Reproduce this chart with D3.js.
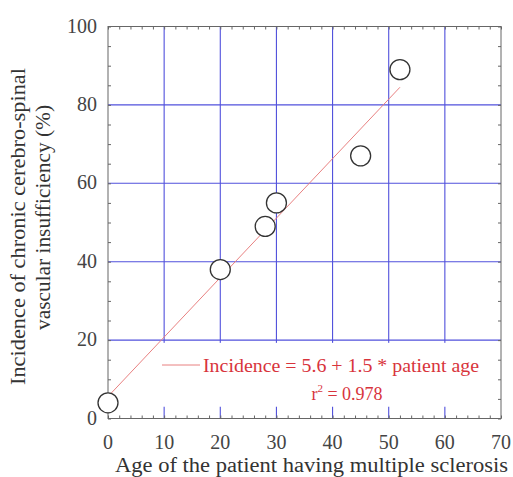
<!DOCTYPE html>
<html>
<head>
<meta charset="utf-8">
<script src="https://cdn.jsdelivr.net/npm/d3@7"></script>
<style>
  body { margin: 0; background: #fff; }
  svg text { font-family: "Liberation Serif", "Times New Roman", "DejaVu Serif", serif; }
</style>
</head>
<body>
<div id="chart"></div>
<script>
// du lieu doc tu hinh
const ages = [0, 20, 28, 30, 45, 52];
const incidence = [4, 38, 49, 55, 67, 89];
const fitAges = [0, 52];
const fitValues = [5.6, 84.5];
const xTicks = [0, 10, 20, 30, 40, 50, 60, 70];
const yTicks = [0, 20, 40, 60, 80, 100];
const legendLines = ["Incidence = 5.6 + 1.5 * patient age"];

const W = 513, H = 477;
const margin = { top: 26.5, right: 12, bottom: 58.5, left: 108 };
const width = W - margin.left - margin.right;
const height = H - margin.top - margin.bottom;

const svg = d3.select("#chart").append("svg")
    .attr("width", W)
    .attr("height", H);

const g = svg.append("g")
    .attr("transform", `translate(${margin.left},${margin.top})`);

const x = d3.scaleLinear().domain([0, 70]).range([0, width]);
const y = d3.scaleLinear().domain([0, 100]).range([height, 0]);

const gridColor = "#5050dc";
const frameColor = "#666";
const textColor = "#444";
const red = "#d8343c";

// luoi xanh
g.append("g").selectAll("line.vx")
    .data(xTicks.filter(d => d > 0 && d < 70))
    .join("line")
      .attr("x1", d => x(d)).attr("x2", d => x(d))
      .attr("y1", 0).attr("y2", height)
      .attr("stroke", gridColor).attr("stroke-width", 1.1);

g.append("g").selectAll("line.hy")
    .data(yTicks.filter(d => d > 0 && d < 100))
    .join("line")
      .attr("x1", 0).attr("x2", width)
      .attr("y1", d => y(d)).attr("y2", d => y(d))
      .attr("stroke", gridColor).attr("stroke-width", 1.1);

// hop nen trang cho chu thich
g.append("rect")
    .attr("x", x(8.9)).attr("y", y(19.3))
    .attr("width", x(68.3) - x(8.9))
    .attr("height", y(3) - y(19.3))
    .attr("fill", "#fff");

// duong hoi quy
g.append("path")
    .datum(fitAges.map((a, i) => [a, fitValues[i]]))
    .attr("fill", "none")
    .attr("stroke", "#e88080")
    .attr("stroke-width", 1)
    .attr("d", d3.line().x(d => x(d[0])).y(d => y(d[1])));

// truc va vach chia (4 phia, huong vao trong)
const tickStroke = sel => sel.call(s => s.select(".domain").remove())
    .selectAll("line").attr("stroke", frameColor);

g.append("g").attr("transform", `translate(0,${height})`)
    .call(d3.axisBottom(x).tickValues(d3.range(0, 71, 2)).tickSize(-3).tickFormat(""))
    .call(tickStroke);
g.append("g")
    .call(d3.axisTop(x).tickValues(d3.range(0, 71, 2)).tickSize(-3).tickFormat(""))
    .call(tickStroke);
g.append("g")
    .call(d3.axisLeft(y).tickValues(d3.range(0, 101, 5)).tickSize(-3).tickFormat(""))
    .call(tickStroke);
g.append("g").attr("transform", `translate(${width},0)`)
    .call(d3.axisRight(y).tickValues(d3.range(0, 101, 5)).tickSize(-3).tickFormat(""))
    .call(tickStroke);

g.append("rect")
    .attr("width", width).attr("height", height)
    .attr("fill", "none").attr("stroke", frameColor).attr("stroke-width", 1);

// nhan truc
g.append("g").selectAll("text")
    .data(xTicks)
    .join("text")
      .attr("x", d => x(d))
      .attr("y", height + 30)
      .attr("text-anchor", "middle")
      .attr("fill", textColor)
      .style("font-size", "20px")
      .text(d => d);

g.append("g").selectAll("text")
    .data(yTicks)
    .join("text")
      .attr("x", -11)
      .attr("y", d => y(d) + 6)
      .attr("text-anchor", "end")
      .attr("fill", textColor)
      .style("font-size", "20px")
      .text(d => d);

// tieu de truc
g.append("text")
    .attr("x", 115 - margin.left)
    .attr("y", 472 - margin.top)
    .attr("fill", "#333")
    .attr("textLength", 393)
    .attr("lengthAdjust", "spacingAndGlyphs")
    .style("font-size", "20px")
    .text("Age of the patient having multiple sclerosis");

g.append("text")
    .attr("transform", `translate(${25 - margin.left},${385 - margin.top}) rotate(-90)`)
    .attr("fill", "#333")
    .attr("textLength", 317)
    .attr("lengthAdjust", "spacingAndGlyphs")
    .style("font-size", "20px")
    .text("Incidence of chronic cerebro-spinal");
g.append("text")
    .attr("transform", `translate(${50 - margin.left},${330 - margin.top}) rotate(-90)`)
    .attr("fill", "#333")
    .attr("textLength", 225)
    .attr("lengthAdjust", "spacingAndGlyphs")
    .style("font-size", "20px")
    .text("vascular insufficiency (%)");

// diem du lieu
g.append("g").selectAll("circle")
    .data(ages.map((a, i) => [a, incidence[i]]))
    .join("circle")
      .attr("cx", d => x(d[0]))
      .attr("cy", d => y(d[1]))
      .attr("r", 10)
      .attr("fill", "#fff")
      .attr("stroke", "#333")
      .attr("stroke-width", 1.3);

// chu thich
const ly = 365 - margin.top;
g.append("line")
    .attr("x1", 162 - margin.left).attr("x2", 200 - margin.left)
    .attr("y1", ly).attr("y2", ly)
    .attr("stroke", "#e88080").attr("stroke-width", 1);
g.append("text")
    .attr("x", 203 - margin.left).attr("y", ly + 7)
    .attr("fill", red)
    .attr("textLength", 276)
    .attr("lengthAdjust", "spacingAndGlyphs")
    .style("font-size", "18px")
    .text(legendLines[0]);
const r2 = g.append("text")
    .attr("x", 347 - margin.left).attr("y", ly + 35)
    .attr("text-anchor", "middle")
    .attr("fill", red)
    .style("font-size", "18px");
r2.append("tspan").text("r");
r2.append("tspan").attr("dy", -8).style("font-size", "11px").text("2");
r2.append("tspan").attr("dy", 8).text(" = 0.978");
</script>
</body>
</html>
